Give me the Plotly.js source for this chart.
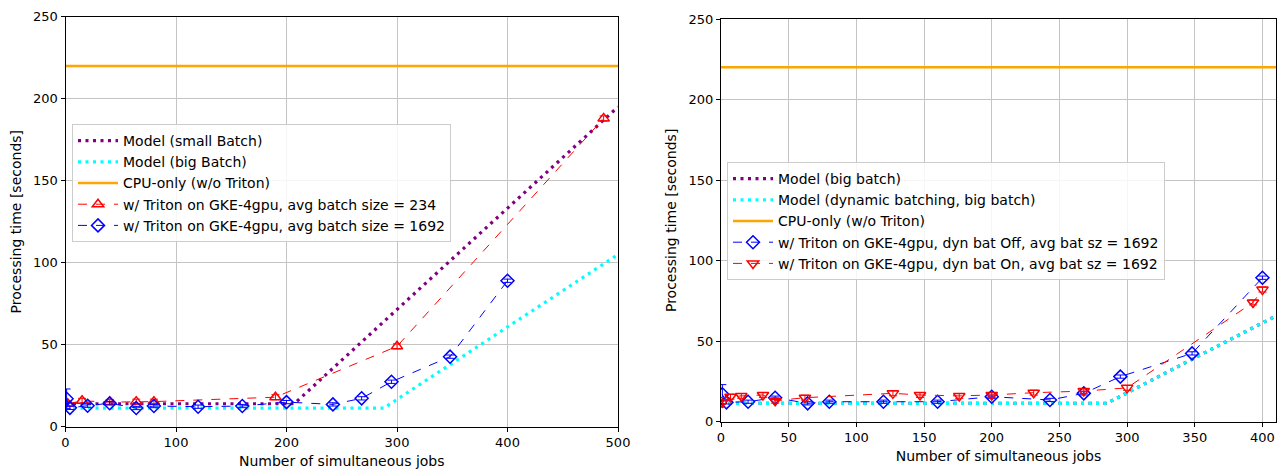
<!DOCTYPE html>
<html>
<head>
<meta charset="utf-8">
<script src="https://cdn.plot.ly/plotly-3.0.1.min.js"></script>
<style>body{margin:0;padding:0;background:#fff}#chart{width:1281px;height:470px}</style>
</head>
<body>
<div id="chart"></div>
<script>
// ---------- Left panel data ----------
const L_modelSmallX = [0, 207, 500];
const L_modelSmallY = [14, 14, 195];
const L_modelBigX = [0, 288, 500];
const L_modelBigY = [11.3, 11.3, 105];
const L_cpuX = [0, 500];
const L_cpuY = [220, 220];
const L_redX = [2, 15, 40, 64, 80, 190, 300, 487];
const L_redY = [14, 15.8, 15, 15.3, 15.3, 18, 49, 188];
const L_redErr = [1.5, 1.5, 1.5, 1.5, 1.5, 1.5, 1.5, 1.5];
const L_blueX = [1, 4, 20, 40, 64, 80, 120, 160, 200, 242, 268, 295, 348, 400];
const L_blueY = [17, 11.5, 12.8, 14.3, 11.4, 12.6, 12.2, 12.6, 15, 13.6, 17.3, 27.4, 42.7, 89];
const L_blueErr = [6, 1, 1, 1, 1, 1, 1, 1, 1, 1, 1, 1, 1, 1];

// ---------- Right panel data ----------
const R_modelBigX = [0, 285, 410];
const R_modelBigY = [11.4, 11.4, 65.7];
const R_modelDynX = [0, 285, 410];
const R_modelDynY = [11.4, 11.4, 65.7];
const R_cpuX = [0, 410];
const R_cpuY = [220, 220];
const R_offX = [1, 4, 20, 40, 64, 80, 120, 160, 200, 243, 268, 295, 348, 400];
const R_offY = [17, 12, 12.4, 14.9, 11.4, 12.4, 12.4, 12.4, 15.5, 13.5, 17.6, 28, 42.4, 89.4];
const R_offErr = [6, 1, 1, 1, 1, 1, 1, 1, 1, 1, 1, 1, 1, 1];
const R_onX = [1, 7, 15, 31, 40, 62, 127, 147, 176, 200, 231, 268, 300, 393, 400];
const R_onY = [12, 15.5, 16, 16.6, 13, 14.9, 17.6, 16.6, 16, 16.6, 18, 19, 21, 74, 82];
const R_onErr = [3, 1.5, 1.5, 1.5, 1.5, 1.5, 1.5, 1.5, 1.5, 1.5, 1.5, 1.5, 1.5, 1.5, 1.5];

// ---------- Labels ----------
const xTitle = 'Number of simultaneous jobs';
const yTitle = 'Processing time [seconds]';

const PURPLE = '#800080', CYAN = '#00ffff', ORANGE = '#ffa500', RED = '#ff0000', BLUE = '#0000ff';

function dotted(x, y, color, name, xa, ya, lg) {
  return {x, y, name, xaxis: xa, yaxis: ya, legend: lg, mode: 'lines', type: 'scatter',
    line: {color, width: 3.2, dash: '3px,4.5px'}};
}
function solid(x, y, color, name, xa, ya, lg) {
  return {x, y, name, xaxis: xa, yaxis: ya, legend: lg, mode: 'lines', type: 'scatter',
    line: {color, width: 2.5}};
}
function meas(x, y, err, color, sym, name, xa, ya, lg) {
  return {x, y, name, xaxis: xa, yaxis: ya, legend: lg, mode: 'lines+markers', type: 'scatter',
    line: {color, width: 1, dash: 'dash'},
    marker: {symbol: sym, size: 10, color: color, line: {color: color, width: 1.5}},
    error_y: {type: 'data', array: err, visible: true, color: color, thickness: 1, width: 4}};
}

const traces = [
  dotted(L_modelSmallX, L_modelSmallY, PURPLE, 'Model (small Batch)', 'x', 'y', 'legend'),
  dotted(L_modelBigX, L_modelBigY, CYAN, 'Model (big Batch)', 'x', 'y', 'legend'),
  solid(L_cpuX, L_cpuY, ORANGE, 'CPU-only (w/o Triton)', 'x', 'y', 'legend'),
  meas(L_redX, L_redY, L_redErr, RED, 'triangle-up-open', 'w/ Triton on GKE-4gpu, avg batch size = 234', 'x', 'y', 'legend'),
  meas(L_blueX, L_blueY, L_blueErr, BLUE, 'diamond-open', 'w/ Triton on GKE-4gpu, avg batch size = 1692', 'x', 'y', 'legend'),

  dotted(R_modelBigX, R_modelBigY, PURPLE, 'Model (big batch)', 'x2', 'y2', 'legend2'),
  dotted(R_modelDynX, R_modelDynY, CYAN, 'Model (dynamic batching, big batch)', 'x2', 'y2', 'legend2'),
  solid(R_cpuX, R_cpuY, ORANGE, 'CPU-only (w/o Triton)', 'x2', 'y2', 'legend2'),
  meas(R_offX, R_offY, R_offErr, BLUE, 'diamond-open', 'w/ Triton on GKE-4gpu, dyn bat Off, avg bat sz = 1692', 'x2', 'y2', 'legend2'),
  meas(R_onX, R_onY, R_onErr, RED, 'triangle-down-open', 'w/ Triton on GKE-4gpu, dyn bat On, avg bat sz = 1692', 'x2', 'y2', 'legend2')
];

const axBase = {
  showline: true, mirror: true, linecolor: '#000', linewidth: 1,
  ticks: 'outside', ticklen: 4, tickcolor: '#000', tickwidth: 1,
  showgrid: true, gridcolor: '#c4c4c4', gridwidth: 1, zeroline: false,
  tickfont: {size: 13, color: '#000'}
};
const titleFont = {size: 14, color: '#000'};
const legBase = {
  bgcolor: 'rgba(255,255,255,0.85)', bordercolor: '#cccccc', borderwidth: 1,
  font: {size: 14, color: '#000'}, xanchor: 'left', yanchor: 'top',
  tracegroupgap: 0, itemwidth: 40
};

const layout = {
  width: 1281, height: 470,
  margin: {l: 0, r: 0, t: 0, b: 0},
  paper_bgcolor: '#fff', plot_bgcolor: '#fff',
  font: {family: 'DejaVu Sans, sans-serif', size: 13, color: '#000'},
  showlegend: true,
  xaxis: Object.assign({}, axBase, {domain: [65.5/1281, 618/1281], range: [0, 500], tickvals: [0,100,200,300,400,500],
    title: {text: xTitle, font: titleFont, standoff: 6}, anchor: 'y'}),
  yaxis: Object.assign({}, axBase, {domain: [1-426.7/470, 1-16.7/470], range: [0, 250], tickvals: [0,50,100,150,200,250],
    title: {text: yTitle, font: titleFont, standoff: 8}, anchor: 'x'}),
  xaxis2: Object.assign({}, axBase, {domain: [721/1281, 1276/1281], range: [0, 410], tickvals: [0,50,100,150,200,250,300,350,400],
    title: {text: xTitle, font: titleFont, standoff: 6}, anchor: 'y2'}),
  yaxis2: Object.assign({}, axBase, {domain: [1-421.7/470, 1-19/470], range: [0, 250], tickvals: [0,50,100,150,200,250],
    title: {text: yTitle, font: titleFont, standoff: 8}, anchor: 'x2'}),
  legend: Object.assign({}, legBase, {x: 72/1281, y: 1-124/470}),
  legend2: Object.assign({}, legBase, {x: 727/1281, y: 1-162/470})
};

Plotly.newPlot('chart', traces, layout, {staticPlot: true, displayModeBar: false});
</script>
</body>
</html>
